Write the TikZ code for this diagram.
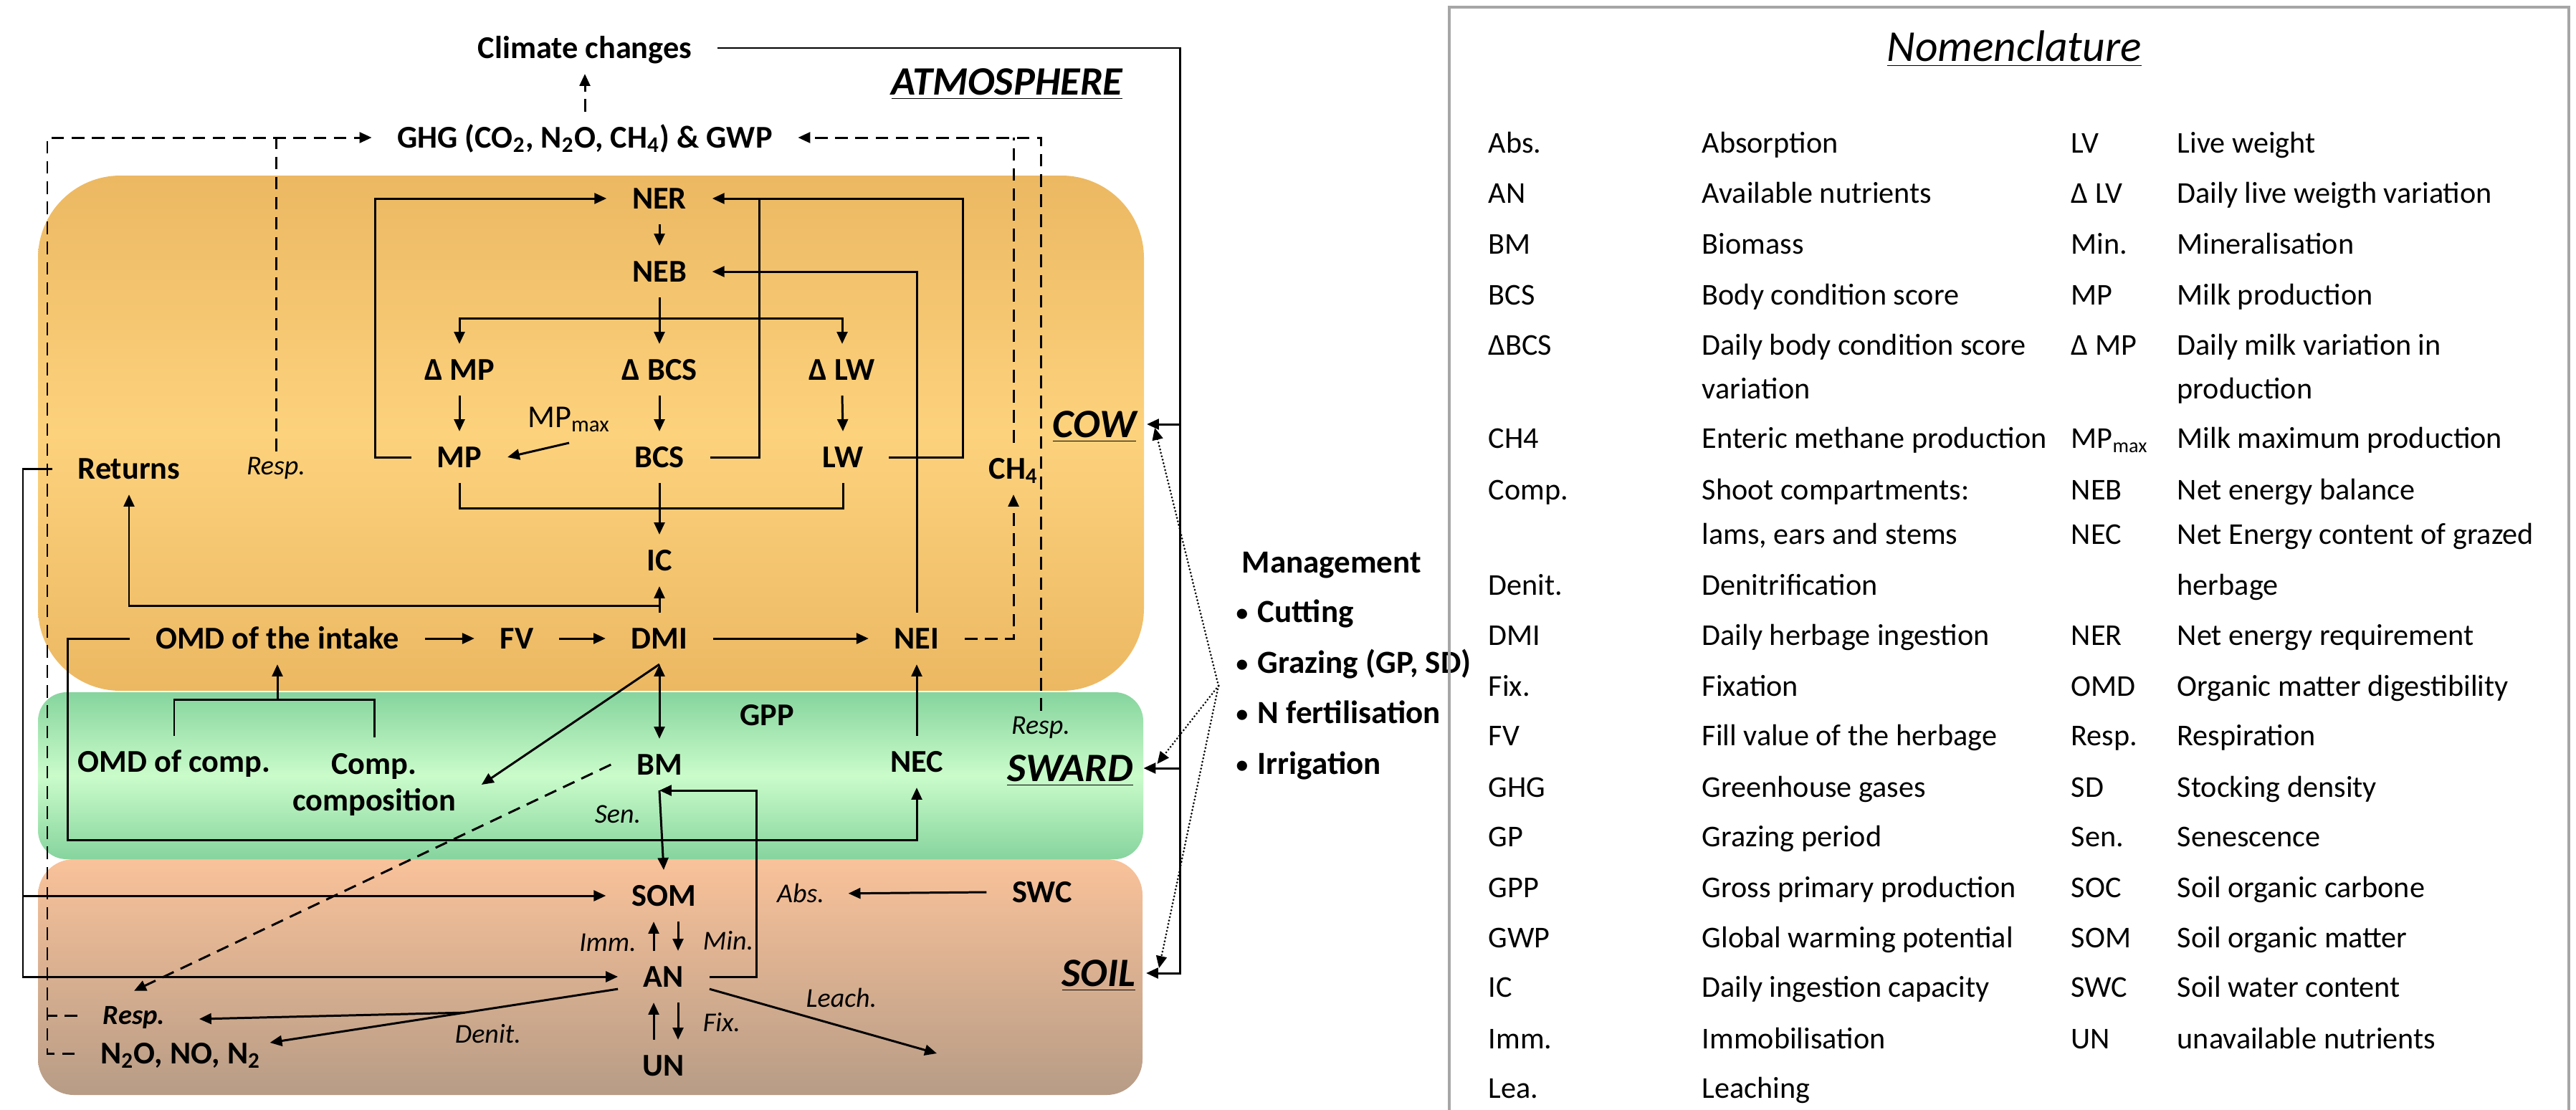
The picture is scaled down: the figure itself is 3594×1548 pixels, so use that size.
\documentclass[tikz,border=0pt]{standalone}
\usepackage{fontspec}
\setmainfont{Carlito}
\usetikzlibrary{arrows.meta,calc}
\definecolor{orT}{HTML}{ECB862}
\definecolor{orM}{HTML}{FDD27D}
\definecolor{grT}{HTML}{86D49E}
\definecolor{grM}{HTML}{CAFCCA}
\definecolor{soT}{HTML}{F9C29A}
\definecolor{soB}{HTML}{B79C86}
\definecolor{nomgray}{HTML}{A6A6A6}
\newcommand{\mybul}{{\fontsize{9.5}{10}\selectfont\raisebox{0.15ex}{•}}\hspace{0.3em}}
\tikzset{
  lbl/.style={font=\bfseries\fontsize{12.6}{15}\selectfont, inner xsep=10pt, inner ysep=6pt, text height=8.1pt, text depth=0pt},
  reg/.style={font=\fontsize{12.6}{15}\selectfont, inner xsep=10pt, inner ysep=6pt, text height=8.1pt, text depth=0pt},
  itl/.style={font=\itshape\fontsize{10.8}{13}\selectfont, inner sep=2pt, text height=7pt, text depth=0pt},
  bit/.style={font=\bfseries\itshape\fontsize{11}{13}\selectfont, inner xsep=10pt, inner ysep=6pt, text height=7.1pt, text depth=0pt},
  zone/.style={font=\bfseries\itshape\fontsize{16}{19}\selectfont, inner xsep=4pt, inner ysep=4pt, text height=10.3pt, text depth=0pt},
  ln/.style={line width=0.85pt},
  arr/.style={ln, -{Triangle[length=4.8pt,width=4.2pt]}},
  arrb/.style={ln, {Triangle[length=4.8pt,width=4.2pt]}-{Triangle[length=4.8pt,width=4.2pt]}},
  dsh/.style={ln, dash pattern=on 5pt off 3pt},
  dotln/.style={line width=0.8pt, line cap=round, dash pattern=on 0pt off 1.4pt},
  nom/.style={font=\fontsize{12}{14}\selectfont, anchor=west, inner sep=0pt, text height=7.7pt, text depth=0pt},
  mgl/.style={font=\bfseries\fontsize{12.8}{15}\selectfont, anchor=west, inner sep=0pt, text height=8.2pt, text depth=0pt},
}
\begin{document}
\begin{tikzpicture}[x=0.01cm,y=-0.01cm]
\useasboundingbox (0,0) rectangle (3594,1548);
% background zones
\shade[top color=soT,bottom color=soB,rounded corners=0.5cm] (53,1199) rectangle (1594,1528);
\shade[top color=grT,bottom color=grT,middle color=grM,rounded corners=0.4cm] (53,966) rectangle (1595,1199);
\shade[top color=orT,bottom color=orT,middle color=orM,rounded corners=1.15cm] (53,245) rectangle (1596,964);

% nodes
\node[lbl] (climate) at (816,67) {Climate changes};
\node[lbl] (ghg) at (816,192) {GHG (CO\textsubscript{2}, N\textsubscript{2}O, CH\textsubscript{4}) \& GWP};
\node[zone] (atmo) at (1405,114) {\underline{ATMOSPHERE}};
\node[lbl] (ner) at (920,277) {NER};
\node[lbl] (neb) at (920,379) {NEB};
\node[lbl] (dmp) at (641,516) {Δ MP};
\node[lbl] (dbcs) at (920,516) {Δ BCS};
\node[lbl] (dlw) at (1175,516) {Δ LW};
\node[lbl] (mp) at (641,638) {MP};
\node[lbl] (bcs) at (920,638) {BCS};
\node[lbl] (lw) at (1176,638) {LW};
\node[reg] (mpmax) at (794,582) {MP\textsubscript{max}};
\node[lbl] (returns) at (180,654) {Returns};
\node[itl] (respcow) at (385,650) {Resp.};
\node[lbl] (ch4) at (1414,654) {CH\textsubscript{4}};
\node[zone] (cow) at (1527,592) {\underline{COW}};
\node[lbl] (ic) at (920,782) {IC};
\node[lbl] (omdint) at (387,891) {OMD of the intake};
\node[lbl] (fv) at (721,891) {FV};
\node[lbl] (dmi) at (920,891) {DMI};
\node[lbl] (nei) at (1279,891) {NEI};
\node[lbl] (gpp) at (1070,998) {GPP};
\node[itl] (respsward) at (1452,1012) {Resp.};
\node[lbl] (omdcomp) at (243,1063) {OMD of comp.};
\node[font=\bfseries\fontsize{12.6}{14.7}\selectfont, align=center, inner xsep=10pt, inner ysep=6pt] (compcomp) at (522,1095) {Comp.\\composition};
\node[lbl] (bm) at (920,1067) {BM};
\node[lbl] (nec) at (1279,1063) {NEC};
\node[zone] (sward) at (1493,1072) {\underline{SWARD}};
\node[itl] (sen) at (862,1136) {Sen.};
\node[lbl] (som) at (926,1250) {SOM};
\node[itl] (abs) at (1117,1247) {Abs.};
\node[lbl] (swc) at (1454,1245) {SWC};
\node[itl] (imm) at (848,1315) {Imm.};
\node[itl] (min) at (1016,1313) {Min.};
\node[lbl] (an) at (926,1363) {AN};
\node[zone] (soil) at (1533,1358) {\underline{SOIL}};
\node[itl] (leach) at (1174,1393) {Leach.};
\node[itl] (fix) at (1007,1427) {Fix.};
\node[bit] (respsoil) at (187,1417) {Resp.};
\node[itl] (denit) at (681,1443) {Denit.};
\node[lbl] (n2o) at (252,1470) {N\textsubscript{2}O, NO, N\textsubscript{2}};
\node[lbl] (un) at (926,1487) {UN};

% management
\node[mgl] (mgt) at (1732,785) {Management};
\node[mgl] (mg1) at (1724,854) {\mybul Cutting};
\node[mgl] (mg2) at (1724,925) {\mybul Grazing (GP, SD)};
\node[mgl] (mg3) at (1724,995) {\mybul N fertilisation};
\node[mgl] (mg4) at (1724,1066) {\mybul Irrigation};

% climate / GHG
\draw[dsh,arr] (ghg.north) -- (climate.south);
\coordinate (fr) at (1646,67);
\draw[arr] (climate.east) -- (fr) -- (fr |- soil.east) -- (soil.east);
\draw[arr] (fr |- cow.east) -- (cow.east);
\draw[arr] (fr |- sward.east) -- (sward.east);

\coordinate (dl) at (66,192);
\draw[dsh,arr] (n2o.west) -- (n2o.west -| dl) -- (dl) -- (ghg.west);
\draw[dsh] (respsoil.west) -- (respsoil.west -| dl);
\draw[dsh] (respcow.north) -- (respcow.north |- dl);
\coordinate (dr) at (1454,192);
\draw[dsh,arr] (respsward.north) -- (respsward.north |- dr) -- (ghg.east);
\draw[dsh] (ch4.north) -- (ch4.north |- dr);
\draw[dsh,arr] (nei.east) -| (ch4.south);

% cow energy
\draw[arr] (ner.south) -- (neb.north);
\coordinate (nebs) at (920,444);
\draw[arr] (neb.south) -- (dbcs.north);
\draw[arr] (nebs) -| (dmp.north);
\draw[arr] (nebs) -| (dlw.north);
\draw[arr] (dmp.south) -- (mp.north);
\draw[arr] (dbcs.south) -- (bcs.north);
\draw[arr] (dlw.south) -- (lw.north);
\draw[arr] (mpmax.south) -- (mp.east);
\draw[arr] (mp.west) -- ++(-50,0) |- (ner.west);
\draw[arr] (lw.east) -- ++(103,0) |- (ner.east);
\draw[ln] (bcs.east) -| ($(ner.east)+(66,0)$);
\draw[arr] (nei.north) |- (neb.east);
\coordinate (icb) at (920,709);
\draw[ln] (mp.south) |- (icb) -| (lw.south);
\draw[arr] (bcs.south) -- (ic.north);
\draw[arr] (dmi.north) -- (ic.south);
\coordinate (rets) at (920,845);
\draw[arr] (rets) -| (returns.south);
\draw[arr] (omdint.east) -- (fv.west);
\draw[arr] (fv.east) -- (dmi.west);
\draw[arr] (dmi.east) -- (nei.west);
\draw[arr] (nec.north) -- (nei.south);
\draw[arrb] (dmi.south) -- (bm.north);
\draw[arr] (dmi.south) -- (compcomp.east);
\coordinate (brk) at (387,976);
\draw[ln] (omdcomp.north) |- (brk) -| (compcomp.north);
\draw[arr] (brk) -- (omdint.south);
\draw[arr] (omdint.west) -- ++(-87,0) |- ($(nec.south)+(0,73)$) -- (nec.south);

% sward / soil
\draw[dsh,arr] (bm.west) -- (respsoil.north);
\draw[arr] (bm.south) -- (som.north);
\draw[arr] (an.east) -- ++(66,0) |- (bm.south);
\coordinate (fl) at (32,652);
\draw[arr] (returns.west) -- (returns.west -| fl) |- (an.west);
\draw[arr] (fl |- som.west) -- (som.west);
\draw[arr, shorten >=0.26cm] (swc.west) -- (abs.east);
\draw[arr] ($(an.north)+(-14,0)$) -- ($(som.south)+(-14,0)$);
\draw[arr] ($(som.south)+(20,0)$) -- ($(an.north)+(20,0)$);
\draw[arr] ($(un.north)+(-14,0)$) -- ($(an.south)+(-14,0)$);
\draw[arr] ($(an.south)+(20,0)$) -- ($(un.north)+(20,0)$);
\coordinate (leachend) at (1307,1470);
\draw[arr] (an.-15) -- (leachend);
\draw[arr] (an.195) -- coordinate[pos=0.44] (dsp) ($(n2o.east)+(-23,-15)$);
\draw[arr] (dsp) -- ($(respsoil.east)+(12,5)$);

% management dotted
\coordinate (mg) at (1700,957);
\draw[dotln,arr] (mg) -- ($(cow.east)+(11,5)$);
\draw[dotln,arr] (mg) -- ($(sward.east)+(19,-6)$);
\draw[dotln,arr] (mg) -- ($(soil.east)+(18,-7)$);

% nomenclature
\draw[nomgray, line width=0.9pt] (2022,1560) -- (2022,10) -- (3584,10) -- (3584,1560);
\node[font=\itshape\fontsize{17.5}{20}\selectfont, inner sep=0pt, text height=11.3pt, text depth=0pt] (nomtitle) at (2810,66) {\underline{Nomenclature}};
\foreach \ry/\rt [count=\i] in {200/Abs., 270/AN, 341/BM, 412/BCS, 482/ΔBCS, 612/CH4, 684/Comp., 817/Denit., 887/DMI, 958/Fix., 1027/FV, 1099/GHG, 1168/GP, 1239/GPP, 1309/GWP, 1378/IC, 1450/Imm., 1519/Lea.}
  \node[nom] (la\i) at (2076,\ry) {\rt};
\foreach \ry/\rt [count=\i] in {200/Absorption, 270/Available nutrients, 341/Biomass, 412/Body condition score, 482/Daily body condition score, 543/variation, 612/Enteric methane production, 684/Shoot compartments:, 746/{lams, ears and stems}, 817/Denitrification, 887/Daily herbage ingestion, 958/Fixation, 1027/Fill value of the herbage, 1099/Greenhouse gases, 1168/Grazing period, 1239/Gross primary production, 1309/Global warming potential, 1378/Daily ingestion capacity, 1450/Immobilisation, 1519/Leaching}
  \node[nom] (ld\i) at (2374,\ry) {\rt};
\foreach \ry/\rt [count=\i] in {200/LV, 270/Δ LV, 341/Min., 412/MP, 482/Δ MP, 612/MP\textsubscript{max}, 684/NEB, 746/NEC, 887/NER, 958/OMD, 1027/Resp., 1099/SD, 1168/Sen., 1239/SOC, 1309/SOM, 1378/SWC, 1450/UN}
  \node[nom] (ra\i) at (2889,\ry) {\rt};
\foreach \ry/\rt [count=\i] in {200/Live weight, 270/Daily live weigth variation, 341/Mineralisation, 412/Milk production, 482/Daily milk variation in, 543/production, 612/Milk maximum production, 684/Net energy balance, 746/Net Energy content of grazed, 817/herbage, 887/Net energy requirement, 958/Organic matter digestibility, 1027/Respiration, 1099/Stocking density, 1168/Senescence, 1239/Soil organic carbone, 1309/Soil organic matter, 1378/Soil water content, 1450/unavailable nutrients}
  \node[nom] (rd\i) at (3037,\ry) {\rt};
\end{tikzpicture}
\end{document}
